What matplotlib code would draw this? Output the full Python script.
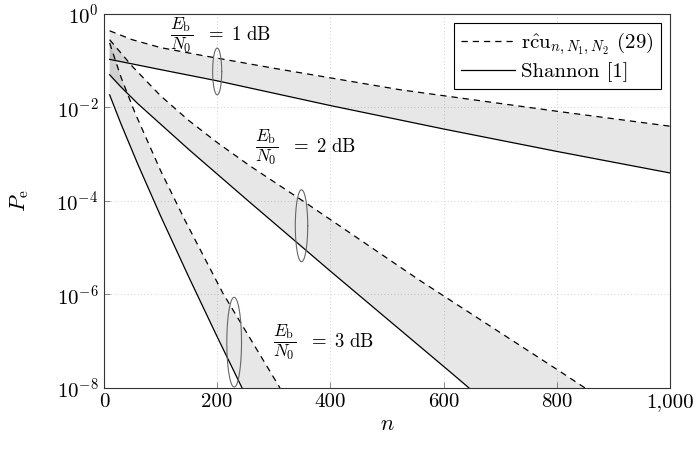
import numpy as np
import matplotlib
matplotlib.use("Agg")
import matplotlib.pyplot as plt
from matplotlib.ticker import FixedLocator, FuncFormatter, NullLocator

plt.rcParams["font.family"] = "serif"
plt.rcParams["font.serif"] = ["cmr10"]
plt.rcParams["mathtext.fontset"] = "cm"
plt.rcParams["axes.formatter.use_mathtext"] = True
plt.rcParams["axes.unicode_minus"] = False

# RCU bound (dashed) and Shannon bound (solid) for Eb/N0 = 1, 2, 3 dB
n_rcu_1 = [10, 50, 100, 170, 300, 523, 800, 1000]
pe_rcu_1 = [0.437, 0.282, 0.191, 0.132, 0.0692, 0.0240, 0.00832, 0.00398]
n_sh_1 = [10, 100, 200, 400, 600, 800, 1000]
pe_sh_1 = [0.107, 0.0646, 0.0372, 0.0110, 0.00347, 0.00115, 0.000398]

n_rcu_2 = [10, 50, 100, 150, 200, 258, 359, 558, 800, 850]
pe_rcu_2 = [0.282, 0.0759, 0.0178, 5.25e-3, 1.78e-3, 5.62e-4, 8.71e-5,
            2.0e-6, 2.51e-8, 1.0e-8]
n_sh_2 = [10, 30, 60, 150, 255, 400, 611, 645]
pe_sh_2 = [0.0501, 0.0275, 0.0120, 1.26e-3, 1.0e-4, 3.16e-6, 2.24e-8, 1.0e-8]

n_rcu_3 = [10, 30, 55, 100, 143, 210, 311]
pe_rcu_3 = [0.240, 0.0447, 7.59e-3, 4.47e-4, 3.89e-5, 1.07e-6, 1.0e-8]
n_sh_3 = [10, 30, 60, 100, 150, 200, 244]
pe_sh_3 = [0.0186, 4.47e-3, 6.03e-4, 4.79e-5, 2.34e-6, 1.245e-7, 1.0e-8]

snr_db = [1, 2, 3]
label_n = [117, 267, 299]
label_pe = [10**-0.45, 10**-2.85, 10**-7.02]
# ellipse markers: centre n, centre log10(Pe), half width (n), half height (decades)
ell_n = [200, 349, 230]
ell_logpe = [-1.23, -4.53, -7.02]
ell_w = [8, 11, 13]
ell_h = [0.50, 0.77, 0.96]

fig = plt.figure(figsize=(6.96, 4.53), dpi=100)
ax = fig.add_axes([0.1494, 0.1435, 0.8132, 0.8256])

groups = [(n_rcu_1, pe_rcu_1, n_sh_1, pe_sh_1),
          (n_rcu_2, pe_rcu_2, n_sh_2, pe_sh_2),
          (n_rcu_3, pe_rcu_3, n_sh_3, pe_sh_3)]

for i, (nr, pr, ns, ps) in enumerate(groups):
    xs = list(nr) + list(ns)[::-1]
    ys = list(pr) + list(ps)[::-1]
    ax.fill(xs, ys, color="black", alpha=0.095, lw=0, zorder=1)
    ax.plot(nr, pr, color="black", lw=0.9, ls=(0, (5, 4)), zorder=3,
            label=r"$\mathrm{r\hat{c}u}_{n,N_1,N_2}$ (29)" if i == 0 else None)
    ax.plot(ns, ps, color="black", lw=0.9, zorder=3,
            label="Shannon [1]" if i == 0 else None)

t = np.linspace(0, 2 * np.pi, 200)
for cx, cy, w, h in zip(ell_n, ell_logpe, ell_w, ell_h):
    ax.plot(cx + w * np.cos(t), 10 ** (cy + h * np.sin(t)), color="#666666",
            lw=0.8, zorder=4)

# Eb/N0 labels: fraction and "= k dB" as two pieces
for s, x, y in zip(snr_db, label_n, label_pe):
    ax.text(x, y, r"$\dfrac{E_\mathrm{b}}{N_0}$", fontsize=12.5,
            ha="left", va="center", zorder=5)
    ax.annotate(r"$=\ %d\ \mathrm{dB}$" % s, xy=(x, y), xytext=(25, -3.5),
                textcoords="offset points", fontsize=13.5,
                ha="left", va="baseline", zorder=5)

ax.set_yscale("log")
ax.set_xlim(0, 1000)
ax.set_ylim(1e-8, 1)
ax.xaxis.set_major_locator(FixedLocator([0, 200, 400, 600, 800, 1000]))
ax.xaxis.set_major_formatter(FuncFormatter(lambda v, p: f"{int(v):,}"))
ax.yaxis.set_major_locator(FixedLocator([1e-8, 1e-6, 1e-4, 1e-2, 1]))
ax.yaxis.set_minor_locator(NullLocator())
ax.tick_params(direction="in", length=4, width=0.6, color="#777777",
               labelsize=15, pad=4)
ax.grid(True, color="#c0c0c0", lw=0.6, ls=(0, (1, 3)))
ax.set_axisbelow(True)
for sp in ax.spines.values():
    sp.set_linewidth(0.8)
    sp.set_color("#333333")

ax.set_xlabel(r"$n$", fontsize=16, labelpad=2)
ax.set_ylabel(r"$P_\mathrm{e}$", fontsize=16, labelpad=18)

leg = ax.legend(loc="upper right", fontsize=15, frameon=True, fancybox=False,
                handlelength=2.6, borderpad=0.35, labelspacing=0.25,
                handletextpad=0.3, borderaxespad=0.42, framealpha=1)
leg.get_frame().set_edgecolor("black")
leg.get_frame().set_linewidth(0.8)

fig.savefig("out.png", dpi=100)
